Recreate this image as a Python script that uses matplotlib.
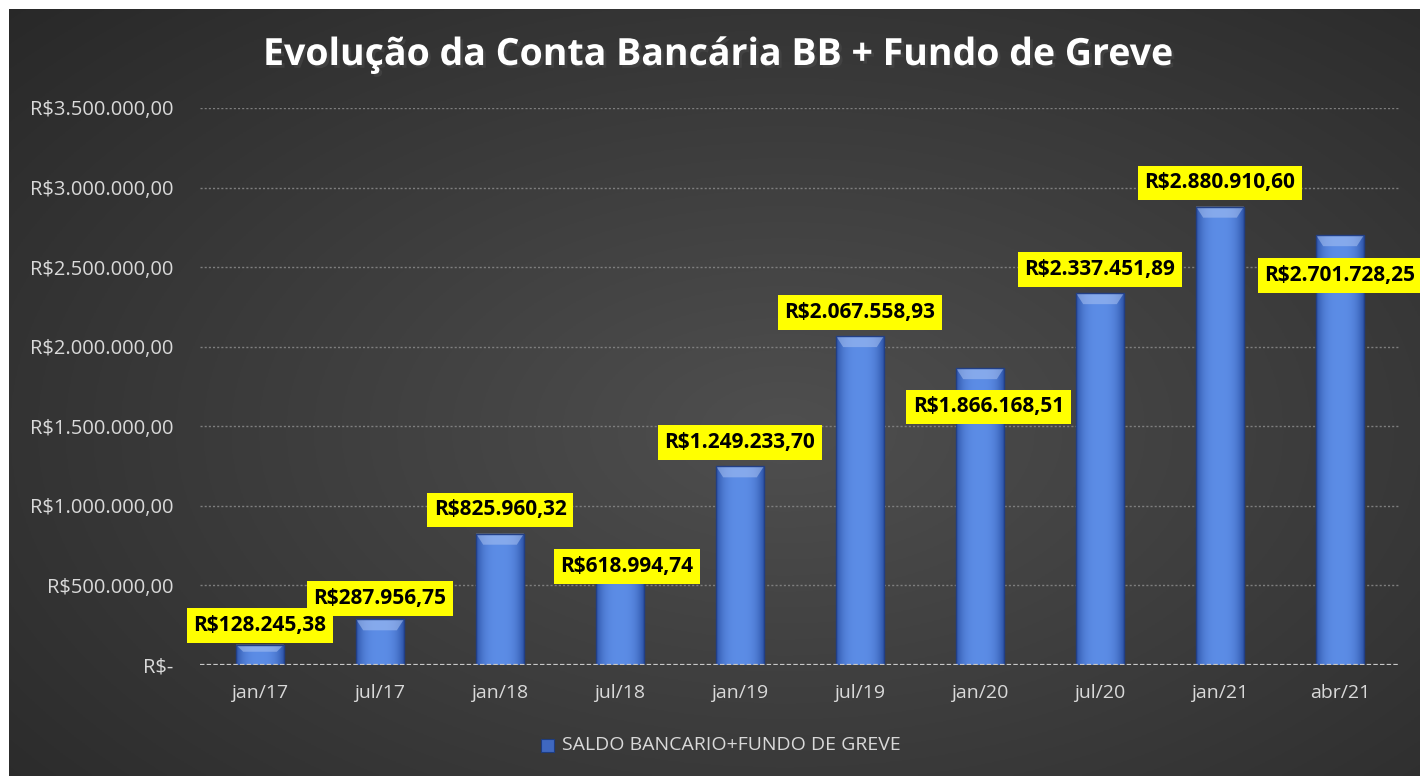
import numpy as np
import matplotlib.pyplot as plt
from matplotlib.patches import Rectangle, Polygon
import matplotlib.patheffects as pe

# data
categories = ['jan/17', 'jul/17', 'jan/18', 'jul/18', 'jan/19',
              'jul/19', 'jan/20', 'jul/20', 'jan/21', 'abr/21']
values = [128245.38, 287956.75, 825960.32, 618994.74, 1249233.70,
          2067558.93, 1866168.51, 2337451.89, 2880910.60, 2701728.25]
labels = ['R$128.245,38', 'R$287.956,75', 'R$825.960,32', 'R$618.994,74', 'R$1.249.233,70',
          'R$2.067.558,93', 'R$1.866.168,51', 'R$2.337.451,89', 'R$2.880.910,60', 'R$2.701.728,25']
yticks = [0, 500000, 1000000, 1500000, 2000000, 2500000, 3000000, 3500000]
ytick_labels = ['R$-', 'R$500.000,00', 'R$1.000.000,00', 'R$1.500.000,00', 'R$2.000.000,00',
                'R$2.500.000,00', 'R$3.000.000,00', 'R$3.500.000,00']
series_name = 'SALDO BANCARIO+FUNDO DE GREVE'

# label placement offsets (x, y) in points relative to bar top
label_offsets = [(0, 14), (0, 15), (0, 17), (5, 0), (0, 17),
                 (0, 17), (6, -28), (0, 17), (0, 17), (0, -29)]

plt.rcParams['font.family'] = ['Open Sans', 'DejaVu Sans']

W, H = 14.2, 7.76
fig = plt.figure(figsize=(W, H), dpi=100, facecolor='white')

# background with radial gradient
bg = fig.add_axes([9 / 1420, 0, 1 - 9 / 1420, 1 - 9 / 776])
bg.set_axis_off()
yy, xx = np.mgrid[0:1:300j, 0:1:500j]
r = np.sqrt(((xx - 0.55) / 0.75) ** 2 + ((yy - 0.45) / 0.8) ** 2)
r = np.clip(r, 0, 1)
shade = 0.31 - 0.15 * r
bg.imshow(np.dstack([shade, shade, shade]), aspect='auto', extent=[0, 1, 0, 1],
          origin='lower', zorder=0)
bg.set_xlim(0, 1)
bg.set_ylim(0, 1)

ax = fig.add_axes([200 / 1420, 1 - 665 / 776, 1200 / 1420, (665 - 108) / 776])
ax.patch.set_alpha(0)
x = np.arange(len(categories))
bw = 0.4

ax.set_xlim(-0.5, len(categories) - 0.5)
ax.set_ylim(0, 3500000)

# gridlines
for t in yticks[1:]:
    ax.axhline(t, color='#7e7e7e', lw=1.0, ls=(0, (1.5, 1.5)), zorder=1)
ax.axhline(0, color='#c8c8c8', lw=1.6, ls=(0, (2, 1)), zorder=3)

# bars with horizontal gradient
grad = np.linspace(-1, 1, 64)
g = 1 - np.abs(grad) ** 3
dark = np.array([0.18, 0.33, 0.66])
light = np.array([0.36, 0.55, 0.90])
img = dark[None, :] + (light - dark)[None, :] * g[:, None]
img = img[None, :, :]
for xi, v in zip(x, values):
    rect = Rectangle((xi - bw / 2, 0), bw, v, facecolor='none', edgecolor='none', zorder=2)
    ax.add_patch(rect)
    im = ax.imshow(img, extent=[xi - bw / 2, xi + bw / 2, 0, v], aspect='auto', zorder=2)
    im.set_clip_path(rect)
    # lighter top bevel
    cap = min(70000, v * 0.35)
    ax.add_patch(Polygon([(xi - bw / 2, v), (xi + bw / 2, v),
                          (xi + bw / 2 * 0.7, v - cap), (xi - bw / 2 * 0.7, v - cap)],
                         closed=True, facecolor='#a9c2f2', edgecolor='none', alpha=0.55, zorder=2))
    ax.add_patch(Rectangle((xi - bw / 2, 0), bw, v, facecolor='none',
                           edgecolor='#223f85', lw=1.0, zorder=2))

ax.set_xlim(-0.5, len(categories) - 0.5)
ax.set_ylim(0, 3500000)

# data labels
for xi, v, lab, (dx, dy) in zip(x, values, labels, label_offsets):
    ax.annotate(lab, (xi, v), xytext=(dx, dy), textcoords='offset points',
                ha='center', va='center', fontsize=15, fontweight='bold', color='black',
                bbox=dict(boxstyle='square,pad=0.33', facecolor='#ffff00', edgecolor='none'),
                zorder=5)

ax.set_yticks(yticks)
ax.set_yticklabels(ytick_labels)
ax.set_xticks(x)
ax.set_xticklabels(categories)
ax.tick_params(axis='both', length=0, colors='#d9d9d9')
ax.tick_params(axis='y', pad=19, labelsize=14.5)
ax.tick_params(axis='x', pad=14, labelsize=14)
for s in ax.spines.values():
    s.set_visible(False)

# title
fig.text(718 / 1420, 1 - 55 / 776, 'Evolução da Conta Bancária BB + Fundo de Greve',
         ha='center', va='center', fontsize=27, fontweight='bold', color='white',
         path_effects=[pe.withSimplePatchShadow(offset=(2, -2), alpha=0.5)])

# legend
lx, ly = 547 / 1420, 1 - 745 / 776
fig.patches.append(Rectangle((lx - 6 / 1420, ly - 7 / 776), 13 / 1420, 13 / 776,
                             transform=fig.transFigure, facecolor='#3f68c0',
                             edgecolor='#1d3c80', lw=0.8))
fig.text(lx + 15 / 1420, ly, series_name, ha='left', va='center',
         fontsize=14, color='#d9d9d9')

fig.savefig('out.png', dpi=100, facecolor=fig.get_facecolor())
